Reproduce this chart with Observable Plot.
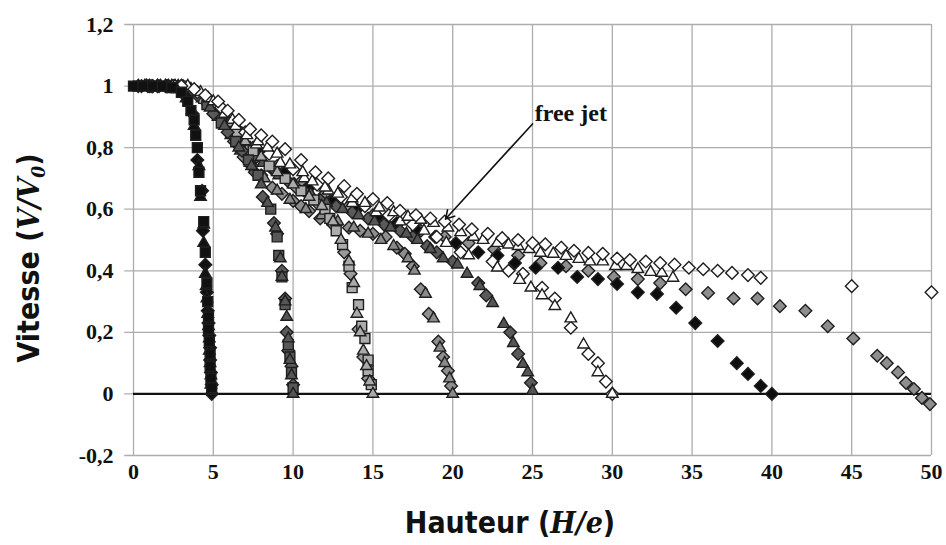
<!DOCTYPE html>
<html><head><meta charset="utf-8">
<script src="https://cdn.jsdelivr.net/npm/d3@7"></script>
<script src="https://cdn.jsdelivr.net/npm/@observablehq/plot@0.6"></script>
<style>body{margin:0;background:#fff}</style>
</head><body><div id="chart"></div>
<script>
const xTicks = [0,5,10,15,20,25,30,35,40,45,50];
const yTicks = [-0.2,0,0.2,0.4,0.6,0.8,1,1.2];
const xTitle = ["Hauteur (", "H/e", ")"];
const yTitle = ["Vitesse (", "V/V", "0", ")"];
const noteLabel = "free jet";
const notePos = [27.4, 0.91];
const arrowFrom = [25.0, 0.877];
const arrowTo = [19.55, 0.568];

// H/e = 5 (black)
const h5Square = [[0,1],[0.6,1],[1.2,1],[1.8,1],[2.4,0.995],[3.0,0.98],[3.4,0.95],[3.6,0.92],[3.8,0.89],[3.9,0.84],[4.0,0.80],[4.1,0.72],[4.2,0.66],[4.4,0.56],[4.5,0.46],[4.6,0.36],[4.65,0.30],[4.7,0.25],[4.7,0.21],[4.75,0.17],[4.8,0.13],[4.8,0.09],[4.85,0.05],[4.9,0.02]];
const h5Diamond = [[0.9,1],[2.1,1],[3.2,0.97],[3.7,0.91],[4.0,0.76],[4.3,0.66],[4.35,0.53],[4.5,0.42],[4.6,0.33],[4.65,0.27],[4.7,0.23],[4.75,0.19],[4.8,0.15],[4.8,0.11],[4.85,0.07],[4.9,0.03],[4.9,0.0]];
const h5Triangle = [[0.3,1],[1.5,1],[2.7,0.99],[3.3,0.96],[3.8,0.87],[4.1,0.74],[4.2,0.64],[4.4,0.55],[4.4,0.49],[4.5,0.39],[4.55,0.35],[4.6,0.31],[4.65,0.26],[4.7,0.22],[4.75,0.18],[4.75,0.14],[4.8,0.10],[4.85,0.06],[4.85,0.03],[4.9,0.01]];
// H/e = 10 (dark gray)
const h10Square = [[0.3,1],[1.8,1],[3.3,0.99],[4.6,0.94],[5.5,0.88],[6.4,0.82],[7.2,0.76],[7.8,0.71],[8.6,0.60],[9.0,0.51],[9.1,0.45],[9.3,0.38],[9.5,0.29],[9.7,0.16],[9.8,0.12],[9.9,0.07],[10.0,0.02]];
const h10Diamond = [[1.1,1],[2.6,1],[4.0,0.97],[5.0,0.91],[5.9,0.85],[6.8,0.79],[7.6,0.72],[8.1,0.64],[8.8,0.555],[9.0,0.52],[9.3,0.40],[9.5,0.31],[9.6,0.20],[9.7,0.14],[9.9,0.09],[10.0,0.03]];
const h10Triangle = [[0.7,1],[2.2,1],[3.7,0.98],[4.8,0.93],[5.7,0.87],[6.6,0.80],[7.4,0.74],[8.0,0.68],[8.4,0.62],[8.9,0.54],[9.2,0.44],[9.3,0.38],[9.5,0.30],[9.6,0.25],[9.7,0.18],[9.8,0.11],[9.9,0.06],[10.0,0.0]];
// H/e = 15 (light gray)
const h15Square = [[1.4,1],[3.0,1],[4.4,0.96],[5.5,0.91],[6.5,0.85],[7.5,0.79],[8.5,0.74],[9.5,0.70],[10.5,0.66],[11.3,0.63],[12.0,0.60],[12.3,0.57],[12.7,0.53],[13.1,0.485],[13.5,0.415],[13.7,0.345],[14.1,0.29],[14.3,0.22],[14.5,0.18],[14.7,0.11],[14.7,0.075],[14.9,0.03]];
const h15Triangle = [[2.0,1],[3.6,0.99],[5.0,0.94],[6.0,0.88],[7.0,0.82],[8.0,0.77],[9.0,0.72],[10.0,0.68],[11.0,0.64],[11.8,0.61],[12.5,0.56],[13.0,0.50],[13.5,0.43],[13.8,0.36],[14.0,0.26],[14.2,0.20],[14.4,0.14],[14.6,0.09],[14.8,0.04],[15.0,0.0]];
const h15Diamond = [[2.4,1],[4.1,0.97],[5.7,0.89],[7.3,0.80],[8.8,0.73],[10.2,0.67],[11.5,0.62],[12.5,0.55],[13.2,0.46],[13.6,0.39],[14.1,0.21],[14.4,0.12],[14.7,0.05]];
// H/e = 20 (medium gray)
const h20Diamond = [[0.5,1],[2.0,1],[3.5,0.99],[4.7,0.94],[5.6,0.88],[6.3,0.82],[6.9,0.77],[7.4,0.74],[8.0,0.71],[8.7,0.67],[9.3,0.65],[10.0,0.627],[10.5,0.61],[11.0,0.594],[11.7,0.57],[12.7,0.55],[13.5,0.54],[14.2,0.53],[15.0,0.52],[15.8,0.51],[16.5,0.475],[17.0,0.455],[17.5,0.415],[18.0,0.34],[18.5,0.26],[19.1,0.17],[19.4,0.12],[19.7,0.075],[19.9,0.026]];
const h20Triangle = [[1.0,1],[2.8,1],[4.3,0.96],[5.3,0.90],[6.1,0.84],[6.7,0.79],[7.3,0.75],[8.2,0.70],[9.0,0.66],[9.8,0.63],[10.8,0.60],[11.8,0.58],[12.8,0.56],[13.8,0.54],[14.7,0.52],[15.5,0.50],[16.3,0.48],[17.2,0.44],[17.6,0.40],[18.3,0.325],[18.8,0.245],[19.2,0.15],[19.5,0.10],[19.8,0.05],[20.0,0.0]];
// H/e = 25 (dark gray)
const h25Triangle = [[0.8,1],[2.4,1],[3.9,0.98],[5.2,0.92],[6.2,0.86],[7.1,0.80],[8.1,0.75],[9.1,0.71],[10.1,0.68],[11.1,0.65],[12.1,0.62],[13.1,0.60],[14.1,0.58],[15.1,0.56],[16.1,0.54],[17.1,0.52],[17.8,0.50],[18.6,0.47],[19.4,0.44],[20.3,0.42],[20.9,0.39],[21.7,0.35],[22.5,0.295],[23.2,0.227],[23.8,0.165],[24.4,0.097],[24.7,0.07],[25.0,0.01]];
const h25Diamond = [[1.6,1],[3.1,1],[4.5,0.95],[5.7,0.89],[6.7,0.83],[7.7,0.77],[8.7,0.73],[9.7,0.69],[10.7,0.66],[11.7,0.63],[12.7,0.61],[13.7,0.59],[14.7,0.57],[15.7,0.55],[16.7,0.53],[17.5,0.51],[18.4,0.48],[19.0,0.46],[20.0,0.43],[21.6,0.36],[22.1,0.32],[23.6,0.20],[24.1,0.13],[24.9,0.036]];
// H/e = 30 (white)
const h30Diamond = [[1.0,1],[2.5,1],[4.0,0.98],[5.5,0.93],[7.0,0.85],[8.5,0.78],[10.0,0.73],[11.5,0.68],[13.0,0.64],[14.5,0.61],[16.0,0.58],[17.5,0.55],[19.0,0.51],[20.5,0.46],[22.5,0.43],[23.5,0.40],[24.4,0.39],[25.6,0.345],[26.4,0.31],[27.4,0.215],[28.5,0.13],[29.1,0.10],[29.6,0.04],[30.0,0.0]];
const h30Triangle = [[1.5,1],[3.0,1],[4.7,0.96],[6.2,0.89],[7.7,0.81],[9.2,0.75],[10.7,0.70],[12.2,0.66],[13.7,0.62],[15.2,0.59],[16.7,0.56],[18.2,0.53],[19.6,0.49],[21.0,0.45],[22.8,0.41],[24.2,0.37],[24.9,0.345],[25.6,0.32],[26.4,0.285],[27.4,0.245],[28.2,0.16],[29.1,0.07],[30.0,0.0]];
// H/e = 40 (black)
const h40Diamond = [[1.5,1],[3.5,0.99],[5.0,0.93],[6.5,0.86],[8.0,0.78],[9.5,0.72],[11.0,0.67],[12.5,0.63],[14.0,0.60],[15.3,0.575],[16.5,0.555],[17.8,0.53],[18.9,0.51],[20.2,0.49],[21.6,0.46],[22.8,0.45],[23.9,0.425],[25.2,0.41],[26.6,0.41],[27.8,0.38],[29.1,0.373],[30.3,0.357],[31.6,0.33],[32.8,0.325],[34.0,0.28],[35.2,0.23],[36.6,0.172],[37.8,0.10],[38.5,0.065],[39.3,0.026],[40.0,0.0]];
// H/e = 50 (gray)
const h50Diamond = [[1.2,1],[3.0,1],[4.6,0.96],[6.0,0.88],[7.5,0.80],[9.0,0.74],[10.5,0.69],[12.0,0.65],[13.5,0.61],[15.0,0.58],[16.5,0.55],[18.0,0.53],[19.5,0.51],[21.0,0.49],[22.6,0.47],[24.1,0.45],[25.5,0.425],[27.1,0.415],[28.5,0.40],[30.1,0.38],[31.6,0.373],[33.0,0.36],[34.6,0.34],[36.0,0.328],[37.6,0.31],[39.1,0.31],[40.5,0.285],[42.1,0.27],[43.5,0.22],[45.1,0.18],[46.6,0.124],[47.2,0.10],[47.9,0.07],[48.4,0.036],[48.9,0.016],[49.4,-0.013],[49.9,-0.033]];
// free jet (white)
const freeDiamond = [[0.3,1],[1.2,1],[2.1,1],[3.0,1],[3.8,0.99],[4.5,0.97],[5.3,0.95],[5.9,0.92],[6.6,0.89],[7.3,0.86],[8.0,0.84],[8.7,0.82],[9.5,0.795],[10.5,0.76],[11.4,0.72],[12.2,0.70],[13.2,0.675],[14.0,0.65],[15.0,0.633],[15.9,0.62],[16.7,0.595],[17.7,0.58],[18.6,0.57],[19.5,0.56],[20.4,0.55],[21.2,0.535],[22.2,0.52],[23.1,0.506],[24.1,0.50],[25.0,0.49],[25.8,0.486],[26.8,0.475],[27.6,0.465],[28.5,0.458],[29.4,0.455],[30.3,0.44],[31.1,0.435],[32.1,0.43],[33.0,0.425],[33.9,0.42],[34.8,0.41],[35.7,0.405],[36.6,0.40],[37.5,0.393],[38.5,0.386],[39.3,0.377],[45.0,0.35],[50.0,0.33]];
const freeTriangle = [[0.8,1],[1.7,1],[2.6,1],[3.4,1],[4.2,0.98],[5.0,0.95],[5.7,0.91],[6.4,0.87],[7.1,0.84],[7.8,0.82],[8.4,0.80],[9.0,0.78],[9.8,0.745],[10.6,0.72],[11.2,0.69],[12.0,0.67],[12.8,0.65],[13.7,0.635],[14.5,0.62],[15.4,0.605],[16.3,0.59],[17.2,0.575],[18.0,0.565],[18.8,0.555],[19.7,0.54],[20.5,0.525],[21.3,0.51],[21.9,0.50],[22.8,0.49],[23.5,0.485],[24.1,0.48],[24.8,0.47],[25.5,0.458],[26.3,0.455],[27.1,0.448],[27.9,0.438],[28.6,0.43],[29.4,0.43],[30.2,0.415],[30.9,0.415],[31.6,0.405],[32.4,0.396],[33.1,0.393],[33.8,0.377]];

const series = [
  {pts: h50Diamond, symbol: "diamond2", fill: "#8e8e8e"},
  {pts: h40Diamond, symbol: "diamond2", fill: "#0d0d0d"},
  {pts: h25Diamond, symbol: "diamond2", fill: "#5a5a5a"},
  {pts: h25Triangle, symbol: "triangle2", fill: "#555555"},
  {pts: h20Diamond, symbol: "diamond2", fill: "#8e8e8e"},
  {pts: h20Triangle, symbol: "triangle2", fill: "#8a8a8a"},
  {pts: h15Diamond, symbol: "diamond2", fill: "#9a9a9a"},
  {pts: h15Square, symbol: "square2", fill: "#acacac"},
  {pts: h15Triangle, symbol: "triangle2", fill: "#aaaaaa"},
  {pts: h10Diamond, symbol: "diamond2", fill: "#5a5a5a"},
  {pts: h10Square, symbol: "square2", fill: "#585858"},
  {pts: h10Triangle, symbol: "triangle2", fill: "#555555"},
  {pts: h30Diamond, symbol: "diamond2", fill: "#ffffff"},
  {pts: h30Triangle, symbol: "triangle2", fill: "#ffffff"},
  {pts: freeTriangle, symbol: "triangle2", fill: "#ffffff"},
  {pts: freeDiamond, symbol: "diamond2", fill: "#ffffff"},
  {pts: h5Diamond, symbol: "diamond2", fill: "#111111"},
  {pts: h5Triangle, symbol: "triangle2", fill: "#111111"},
  {pts: h5Square, symbol: "square2", fill: "#111111"}
];

const fmtY = d => String(Math.round(d * 10) / 10).replace(".", ",");
const serif = "'Liberation Serif', 'Times New Roman', serif";
const radius = {diamond2: 5.7, square2: 6.3, triangle2: 5.5};

const dotMarks = series.map(s => Plot.dot(s.pts.map(([x, y]) => ({x, y})), {
  x: "x", y: "y", symbol: s.symbol, fill: s.fill, stroke: "#1e1e1e", strokeWidth: 1.4,
  r: radius[s.symbol]
}));

const xTickRows = xTicks.map(v => ({v, t: String(v)}));
const yTickRows = yTicks.map(v => ({v, t: fmtY(v)}));

const chart = Plot.plot({
  width: 946, height: 545,
  marginLeft: 133, marginRight: 15, marginTop: 24, marginBottom: 90,
  x: {domain: [0, 50], axis: null},
  y: {domain: [-0.2, 1.2], axis: null},
  style: {fontFamily: serif, fontWeight: "bold", color: "#111", background: "#fff"},
  marks: [
    Plot.ruleX(xTicks, {x: d => d, y1: -0.2, y2: 1.2, stroke: "#adadad", strokeWidth: 1.3}),
    Plot.ruleY(yTicks, {y: d => d, x1: -0.55, x2: 50, stroke: "#adadad", strokeWidth: 1.3}),
    Plot.ruleY([0], {y: d => d, x1: 0, x2: 50, stroke: "#111", strokeWidth: 2.2}),
    Plot.text(xTickRows, {x: "v", y: -0.2, text: "t", dy: 16, fontSize: 22, fontWeight: "bold", fontFamily: serif, fill: "#111"}),
    Plot.text(yTickRows, {x: 0, y: "v", text: "t", dx: -20, textAnchor: "end", fontSize: 22, fontWeight: "bold", fontFamily: serif, fill: "#111"}),
    ...dotMarks,
    Plot.arrow([{x1: arrowFrom[0], y1: arrowFrom[1], x2: arrowTo[0], y2: arrowTo[1]}], {
      x1: "x1", y1: "y1", x2: "x2", y2: "y2", stroke: "#111", strokeWidth: 1.6, headLength: 9, bend: false
    }),
    Plot.text([{x: notePos[0], y: notePos[1], t: noteLabel}], {
      x: "x", y: "y", text: "t", fontSize: 24, fontWeight: "bold", fontFamily: serif, fill: "#111"
    })
  ]
});

const svg = d3.select(chart);
const sansCond = "'DejaVu Sans', sans-serif";
const xt = svg.append("text")
  .attr("x", 510).attr("y", 533)
  .attr("text-anchor", "middle")
  .style("font-family", sansCond).style("font-stretch", "condensed")
  .style("font-weight", "bold").style("font-size", "30px").attr("fill", "#111");
xt.append("tspan").text(xTitle[0]);
xt.append("tspan").style("font-style", "italic").style("font-family", "'DejaVu Serif', serif").text(xTitle[1]);
xt.append("tspan").text(xTitle[2]);

const yt = svg.append("text")
  .attr("transform", "translate(39,258) rotate(-90)")
  .attr("text-anchor", "middle")
  .style("font-family", sansCond).style("font-stretch", "condensed")
  .style("font-weight", "bold").style("font-size", "30px").attr("fill", "#111");
yt.append("tspan").text(yTitle[0]);
yt.append("tspan").style("font-style", "italic").style("font-family", "'DejaVu Serif', serif").text(yTitle[1]);
yt.append("tspan").style("font-style", "italic").style("font-family", "'DejaVu Serif', serif").style("font-size", "19px").attr("dy", 6).text(yTitle[2]);
yt.append("tspan").attr("dy", -6).text(yTitle[3]);

document.getElementById("chart").appendChild(chart);
</script>
</body></html>
